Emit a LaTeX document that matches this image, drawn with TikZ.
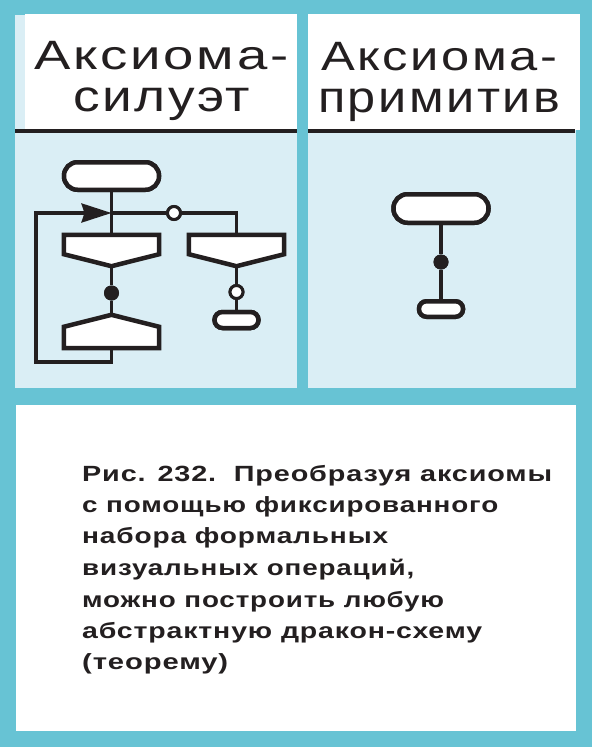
\documentclass[tikz,border=0pt]{standalone}
\usepackage{fontspec}
\usepackage{graphicx}
\usetikzlibrary{arrows.meta,calc}
\newfontfamily\headfont[LetterSpace=5]{Liberation Sans}
\newfontfamily\bodyfont[LetterSpace=3]{Liberation Sans}
\definecolor{tealbg}{HTML}{67C3D4}
\definecolor{pale}{HTML}{DAEEF5}
\definecolor{ink}{HTML}{231F20}
\newcommand{\fitw}[3]{\resizebox{#1pt}{\height}{\fontsize{#2pt}{#2pt}\selectfont #3}}
\begin{document}
\begin{tikzpicture}[x=1pt,y=-1pt,
  termbox/.style={draw=ink,fill=white,line width=4.5pt,inner sep=0pt,rounded corners=#1},
  shapebox/.style={draw=ink,fill=white,line width=4.5pt,line join=miter},
  frame/.style={inner sep=0pt,minimum width=95pt},
  conn/.style={draw=ink,line width=3.3pt},
  dotb/.style={circle,fill=ink,inner sep=0pt,minimum size=15pt},
  dotw/.style={circle,draw=ink,fill=white,line width=3pt,inner sep=0pt,minimum size=13pt},
  headtxt/.style={anchor=base west,inner sep=0pt,text=ink,font=\headfont},
  bodytxt/.style={anchor=base west,inner sep=0pt,text=ink,font=\bodyfont\bfseries}]
\useasboundingbox (0,0) rectangle (592,747);
% background and panels
\fill[tealbg] (0,0) rectangle (592,747);
\fill[pale] (15,15) rectangle (297,388);
\fill[white] (25,14) rectangle (297,130);
\fill[pale] (308,14) rectangle (576,388);
\fill[white] (308,14) rectangle (580,130);
\fill[ink] (15,129.3) rectangle (297,132.8);
\fill[ink] (308,129.3) rectangle (575,132.8);
\fill[white] (16,405) rectangle (576,731);
% headers
\node[headtxt] (h1a) at (34,69) {\fitw{254}{41}{Аксиома-}};
\node[headtxt] (h1b) at (73,111) {\fitw{177}{44}{силуэт}};
\node[headtxt] (h2a) at (321,70) {\fitw{236}{41}{Аксиома-}};
\node[headtxt] (h2b) at (318,112) {\fitw{242}{44}{примитив}};
% caption
\node[bodytxt] (c1) at (82,481) {\fitw{470}{22}{Рис. 232.\ \ Преобразуя аксиомы}};
\node[bodytxt] (c2) at (82,512) {\fitw{416}{22}{с помощью фиксированного}};
\node[bodytxt] (c3) at (82,543) {\fitw{306}{22}{набора формальных}};
\node[bodytxt] (c4) at (82,575) {\fitw{332}{22}{визуальных операций,}};
\node[bodytxt] (c5) at (82,607) {\fitw{362}{22}{можно построить любую}};
\node[bodytxt] (c6) at (82,638) {\fitw{400}{22}{абстрактную дракон-схему}};
\node[bodytxt] (c7) at (82,669) {\fitw{146}{22}{(теорему)}};
% ---- left flowchart ----
\node[termbox=13.5pt,minimum width=95pt,minimum height=27.5pt] (t1) at (111.5,176) {};
\node[frame,minimum height=31pt] (q1) at (111.5,250.5) {};
\node[frame,minimum height=31pt] (q2) at (236.5,250.5) {};
\node[frame,minimum height=33pt] (l2) at (111.5,331.5) {};
\coordinate (j) at (111.5,213);
\coordinate (jr) at (236.5,213);
\coordinate (lb) at (111.5,362);
\coordinate (lbl) at (36,362);
\coordinate (ltl) at (36,213);
\node[dotw] (o1) at (174,213) {};
\node[dotb] (d1) at (111.5,293) {};
\node[dotw] (o2) at (236.5,292) {};
\node[termbox=8pt,minimum width=44pt,minimum height=16pt] (t3) at (236.5,320) {};
% connectors (behind shapes)
\draw[conn] (t1.south) -- (q1.north);
\draw[conn] (j) -- (o1.west);
\draw[conn] (o1.east) -- (jr) -- (q2.north);
\draw[conn] (q1.south) -- (d1) -- (l2.north);
\draw[conn] (q2.south) -- (o2.north);
\draw[conn] (o2.south) -- (t3.north);
\draw[conn,line join=miter,-{Stealth[length=30pt,width=19pt,inset=3pt]}] (l2.south) -- (lb) -- (lbl) -- (ltl) -- (j);
% shapes on top
\filldraw[shapebox] (q1.north west) -- (q1.north east) -- ([yshift=12pt]q1.south east) -- (q1.south) -- ([yshift=12pt]q1.south west) -- cycle;
\filldraw[shapebox] (q2.north west) -- (q2.north east) -- ([yshift=12pt]q2.south east) -- (q2.south) -- ([yshift=12pt]q2.south west) -- cycle;
\filldraw[shapebox] (l2.north) -- ([yshift=-12pt]l2.north east) -- (l2.south east) -- (l2.south west) -- ([yshift=-12pt]l2.north west) -- cycle;
\node[dotw] at (o1) {};
\node[dotb] at (d1) {};
\node[dotw] at (o2) {};
\node[termbox=13.5pt,minimum width=95pt,minimum height=27.5pt] at (t1) {};
\node[termbox=8pt,minimum width=44pt,minimum height=16pt] at (t3) {};
% ---- right panel ----
\node[termbox=14pt,minimum width=95pt,minimum height=28.5pt] (t4) at (441,208.5) {};
\node[dotb] (d2) at (441,262) {};
\node[termbox=7.5pt,minimum width=44pt,minimum height=15.5pt] (t5) at (441,309) {};
\draw[conn] (t4.south) -- (d2) -- (t5.north);
\node[termbox=14pt,minimum width=95pt,minimum height=28.5pt] at (t4) {};
\node[termbox=7.5pt,minimum width=44pt,minimum height=15.5pt] at (t5) {};
\node[dotb] at (d2) {};
\end{tikzpicture}
\end{document}
